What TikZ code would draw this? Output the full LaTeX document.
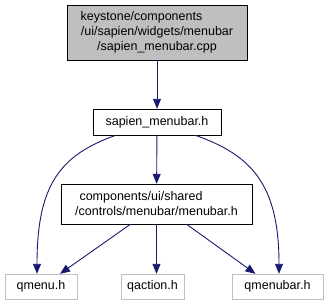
\documentclass[tikz,border=0pt]{standalone}
\usepackage{fontspec}
\setmainfont{Liberation Sans}
\usetikzlibrary{arrows.meta}

\definecolor{edgeblue}{HTML}{191970}
\definecolor{boxgray}{HTML}{BFBFBF}

\tikzset{
    file/.style={draw=black, rectangle, inner sep=0pt, font=\fontsize{12.5}{15}\selectfont, align=center},
    extfile/.style={file, draw=boxgray},
    dep/.style={draw=edgeblue, line width=0.9pt, -{Triangle[length=10pt,width=8pt]}}
}

\begin{document}
\begin{tikzpicture}[x=1pt, y=-1pt]
    \useasboundingbox (0,0) rectangle (328,305);

    \node[file, fill=boxgray, minimum width=180pt, minimum height=55pt] (cpp) at (157,32.5)
        {keystone/components\hspace*{31pt}\\/ui/sapien/widgets/menubar\\/sapien\_menubar.cpp};
    \node[file, minimum width=128pt, minimum height=26pt] (sap) at (157,122) {sapien\_menubar.h};
    \node[file, minimum width=191pt, minimum height=40pt] (menubar) at (156.5,204)
        {components/ui/shared\hspace*{31pt}\\/controls/menubar/menubar.h};
    \node[extfile, minimum width=72pt, minimum height=25pt] (qmenu) at (41,286.5) {qmenu.h};
    \node[extfile, minimum width=63pt, minimum height=25pt] (qaction) at (152.5,286.5) {qaction.h};
    \node[extfile, minimum width=91pt, minimum height=25pt] (qmenubar) at (277.5,286.5) {qmenubar.h};

    \draw[dep] (cpp) -- (sap);
    \draw[dep] ([xshift=-41pt]sap.south) .. controls (60,155) and (37,185) .. ([xshift=-4pt]qmenu.north);
    \draw[dep] (sap) -- (menubar);
    \draw[dep] ([xshift=38pt]sap.south) .. controls (252,155) and (279,185) .. ([xshift=1.5pt]qmenubar.north);
    \draw[dep] ([xshift=-26pt]menubar.south) -- ([xshift=19pt]qmenu.north);
    \draw[dep] (menubar.south) -- (menubar.south |- qaction.north);
    \draw[dep] ([xshift=30pt]menubar.south) -- ([xshift=-22pt]qmenubar.north);
\end{tikzpicture}
\end{document}
